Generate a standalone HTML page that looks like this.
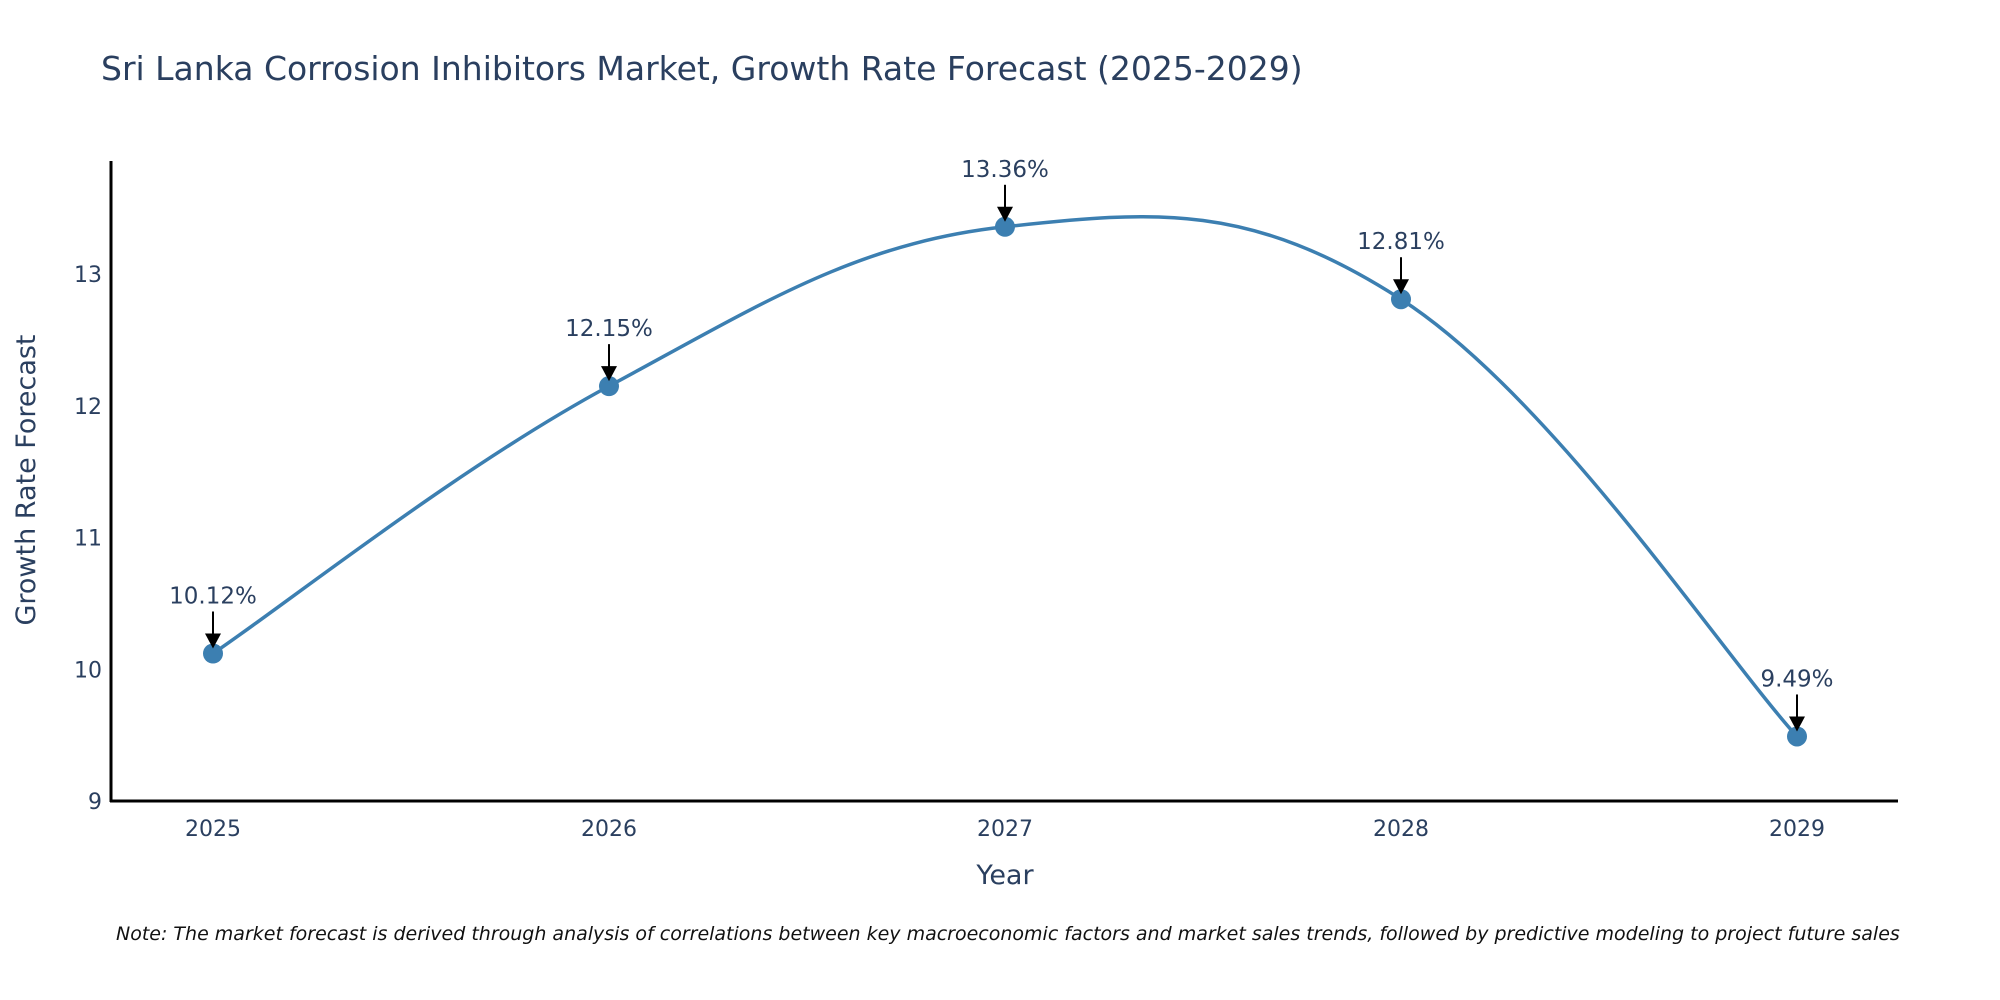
<!DOCTYPE html>
<html><head><meta charset="utf-8"><style>
body{margin:0;background:#fff;}
svg{display:block;font-family:"DejaVu Sans","Liberation Sans",sans-serif;}
</style></head><body>
<svg id="chart" width="2000" height="1000" viewBox="0 0 2000 1000">
<text x="101" y="80" font-size="33" fill="#2a3f5f">Sri Lanka Corrosion Inhibitors Market, Growth Rate Forecast (2025-2029)</text>
<g id="yticks"></g>
<g id="xticks"></g>
<path id="line" fill="none" stroke="#3c7fb1" stroke-width="3.5"/>
<g id="marks"></g>
<line x1="111" y1="161" x2="111" y2="802" stroke="#000" stroke-width="3"/>
<line x1="110" y1="801" x2="1898" y2="801" stroke="#000" stroke-width="3"/>
<text transform="translate(35,480) rotate(-90)" text-anchor="middle" font-size="27" fill="#2a3f5f">Growth Rate Forecast</text>
<text x="1005" y="884" text-anchor="middle" font-size="27" fill="#2a3f5f">Year</text>
<text x="116" y="940" font-size="19" font-style="italic" fill="#111">Note: The market forecast is derived through analysis of correlations between key macroeconomic factors and market sales trends, followed by predictive modeling to project future sales</text>
</svg>
<script>
const years = ["2025","2026","2027","2028","2029"];
const rates = [10.12, 12.15, 13.36, 12.81, 9.49];
const yTickValues = [9, 10, 11, 12, 13];
const NS = "http://www.w3.org/2000/svg";
const x0 = 213, dx = 396;
function xs(i){ return x0 + i*dx; }
function ys(v){ return 801 - (v - 9) * 131.7; }
const yt = document.getElementById('yticks');
yTickValues.forEach(v=>{
  const t=document.createElementNS(NS,'text');
  
  
  t.setAttribute('x',102); t.setAttribute('y',ys(v)+8);
  t.setAttribute('text-anchor','end'); t.setAttribute('font-size','22'); t.setAttribute('fill','#2a3f5f');
  t.textContent=v; yt.appendChild(t);
});
const xt = document.getElementById('xticks');
years.forEach((y,i)=>{
  const t=document.createElementNS(NS,'text');
  
  
  t.setAttribute('x',xs(i)); t.setAttribute('y',836);
  t.setAttribute('text-anchor','middle'); t.setAttribute('font-size','22'); t.setAttribute('fill','#2a3f5f');
  t.textContent=y; xt.appendChild(t);
});
const pts = rates.map((v,i)=>[xs(i), ys(v)]);
let d = 'M'+pts[0][0]+','+pts[0][1];
const k = 0.19;
for(let i=0;i<pts.length-1;i++){
  const p0=pts[Math.max(0,i-1)], p1=pts[i], p2=pts[i+1], p3=pts[Math.min(pts.length-1,i+2)];
  const c1=[p1[0]+(p2[0]-p0[0])*k, p1[1]+(p2[1]-p0[1])*k];
  const c2=[p2[0]-(p3[0]-p1[0])*k, p2[1]-(p3[1]-p1[1])*k];
  d+=' C'+c1[0]+','+c1[1]+' '+c2[0]+','+c2[1]+' '+p2[0]+','+p2[1];
}
document.getElementById('line').setAttribute('d',d);
const mk = document.getElementById('marks');
pts.forEach((p,i)=>{
  const c=document.createElementNS(NS,'circle');
  
  
  c.setAttribute('cx',p[0]); c.setAttribute('cy',p[1]); c.setAttribute('r',10); c.setAttribute('fill','#3c7fb1');
  mk.appendChild(c);
  const l=document.createElementNS(NS,'line');
  
  
  l.setAttribute('x1',p[0]); l.setAttribute('y1',p[1]-42); l.setAttribute('x2',p[0]); l.setAttribute('y2',p[1]-18);
  l.setAttribute('stroke','#000'); l.setAttribute('stroke-width','2');
  mk.appendChild(l);
  const h=document.createElementNS(NS,'polygon');
  
  
  h.setAttribute('points',(p[0]-8)+','+(p[1]-20)+' '+(p[0]+8)+','+(p[1]-20)+' '+p[0]+','+(p[1]-5));
  h.setAttribute('fill','#000');
  mk.appendChild(h);
  const t=document.createElementNS(NS,'text');
  
  
  t.setAttribute('x',p[0]); t.setAttribute('y',p[1]-50);
  t.setAttribute('text-anchor','middle'); t.setAttribute('font-size','23'); t.setAttribute('fill','#2a3f5f');
  t.textContent=rates[i].toFixed(2)+'%';
  mk.appendChild(t);
});
</script>
</body></html>
